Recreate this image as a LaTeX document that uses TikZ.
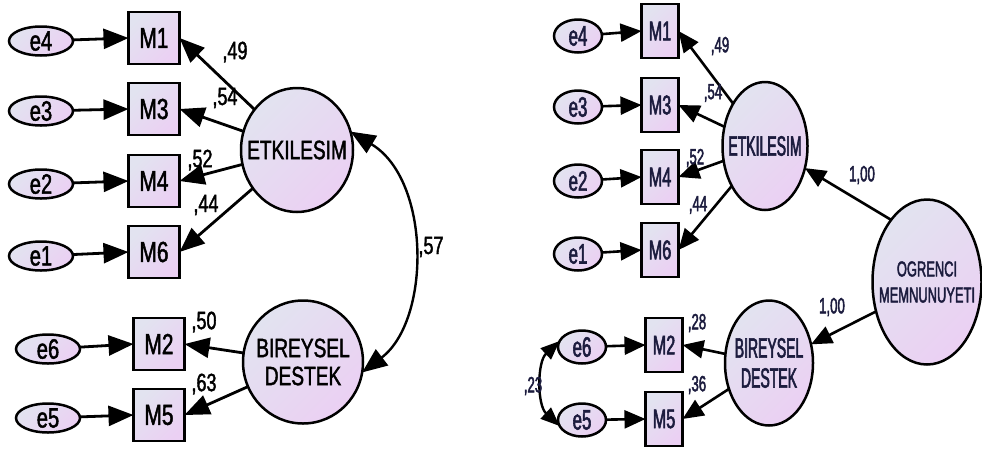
\documentclass[tikz,border=0pt]{standalone}
\usepackage{fontspec}
\setmainfont{Liberation Sans}
\newfontfamily\lfont[FakeStretch=0.72,FakeBold=1.6]{Liberation Sans}
\newfontfamily\rfont[FakeStretch=0.50,FakeBold=2]{Liberation Sans}
\newfontfamily\rfontb[FakeStretch=0.60,FakeBold=2]{Liberation Sans}
\usetikzlibrary{shapes.geometric,arrows.meta}
\definecolor{pA}{RGB}{226,227,240}
\definecolor{pB}{RGB}{235,208,243}
\definecolor{navy}{RGB}{28,28,62}
\begin{document}
\begin{tikzpicture}[x=1pt,y=-1pt,
  sh/.style={draw=black, line width=2.5pt, top color=pA, bottom color=pB, shading angle=45, inner sep=0pt, outer sep=0pt},
  lobstxt/.style={font=\lfont\fontsize{29}{30}\selectfont, inner sep=0pt},
  lerrtxt/.style={font=\lfont\fontsize{28}{30}\selectfont, inner sep=0pt},
  llattxt/.style={font=\lfont\fontsize{26.5}{28}\selectfont, inner sep=0pt},
  robstxt/.style={font=\rfontb\fontsize{27}{30}\selectfont, text=navy, inner sep=0pt},
  rerrtxt/.style={font=\rfontb\fontsize{28}{30}\selectfont, text=navy, inner sep=0pt},
  rlattxt/.style={font=\rfont\fontsize{28}{30}\selectfont, text=navy, inner sep=0pt},
  lobs/.style={sh, rectangle, minimum width=51pt, minimum height=52pt, lobstxt},
  robs/.style={sh, rectangle, minimum width=37pt, minimum height=54pt, robstxt},
  lerr/.style={sh, ellipse, minimum width=64pt, minimum height=29pt, label={[lerrtxt]center:#1}},
  rerr/.style={sh, ellipse, minimum width=48pt, minimum height=33pt, label={[rerrtxt]center:#1}},
  lat/.style={sh, ellipse},
  llab/.style={font=\lfont\fontsize{25}{26}\selectfont, inner sep=0pt},
  rlab/.style={font=\rfontb\fontsize{22}{24}\selectfont, text=navy, inner sep=0pt},
  larr/.style={-{Triangle[length=25pt,width=20pt]}, line width=2.8pt},
  rarr/.style={-{Triangle[length=21pt,width=18pt]}, line width=2.6pt},
  lcov/.style={{Triangle[length=25pt,width=20pt]}-{Triangle[length=25pt,width=20pt]}, line width=2.4pt},
  rcov/.style={{Triangle[length=19pt,width=15pt]}-{Triangle[length=19pt,width=15pt]}, line width=2.4pt}]
\useasboundingbox (0,0) rectangle (982,448);

% ---------------- left model ----------------
\node[lerr=e4] (le4) at (41,41) {};
\node[lerr=e3] (le3) at (41,111) {};
\node[lerr=e2] (le2) at (41,184) {};
\node[lerr=e1] (le1) at (41,256) {};
\node[lerr=e6] (le6) at (48,349) {};
\node[lerr=e5] (le5) at (48,418) {};
\node[lobs] (lm1) at (154,38) {M1};
\node[lobs] (lm3) at (154,109) {M3};
\node[lobs] (lm4) at (154,181) {M4};
\node[lobs] (lm6) at (154,252) {M6};
\node[lobs] (lm2) at (159,344) {M2};
\node[lobs] (lm5) at (159,415) {M5};
\node[lat, minimum width=112pt, minimum height=124pt,
      label={[llattxt]center:ETKILESIM}] (letk) at (297,150) {};
\node[lat, minimum width=120pt, minimum height=123pt,
      label={[llattxt, align=center]center:BIREYSEL\\DESTEK}] (lbir) at (303,362) {};

\foreach \e/\m in {le4/lm1, le3/lm3, le2/lm4, le1/lm6, le6/lm2, le5/lm5}
  \draw[larr] (\e) -- (\m.west);
\foreach \m in {lm1, lm3, lm4, lm6}
  \draw[larr] (letk) -- (\m.east);
\foreach \m in {lm2, lm5}
  \draw[larr] (lbir) -- (\m.east);
\draw[lcov] (letk.19) .. controls (431,180) and (431,320) .. (lbir.-10);

\node[llab] (l49) at (235,52) {,49};
\node[llab] (l54) at (225,98) {,54};
\node[llab] (l52) at (200,160) {,52};
\node[llab] (l44) at (206,205) {,44};
\node[llab] (l50) at (204,322) {,50};
\node[llab] (l63) at (204,384) {,63};
\node[llab] (l57) at (431,247) {,57};

% ---------------- right model ----------------
\node[rerr=e4] (re4) at (578,36) {};
\node[rerr=e3] (re3) at (578,107) {};
\node[rerr=e2] (re2) at (578,181) {};
\node[rerr=e1] (re1) at (578,254) {};
\node[rerr=e6] (re6) at (582,347) {};
\node[rerr=e5] (re5) at (582,420) {};
\node[robs] (rm1) at (660,31) {M1};
\node[robs] (rm3) at (660,105) {M3};
\node[robs] (rm4) at (660,177) {M4};
\node[robs] (rm6) at (660,250) {M6};
\node[robs] (rm2) at (664,345) {M2};
\node[robs] (rm5) at (664,419) {M5};
\node[lat, minimum width=85pt, minimum height=128pt,
      label={[rlattxt]center:ETKILESIM}] (retk) at (765,146) {};
\node[lat, minimum width=88pt, minimum height=125pt,
      label={[rlattxt, align=center]center:BIREYSEL\\DESTEK}] (rbir) at (769,363) {};
\node[lat, minimum width=109pt, minimum height=165pt,
      label={[font=\rfontb\fontsize{21.5}{26}\selectfont, text=navy, inner sep=0pt, align=center]center:OGRENCI\\MEMNUNUYETI}] (rogr) at (927,282) {};

\foreach \e/\m in {re4/rm1, re3/rm3, re2/rm4, re1/rm6, re6/rm2, re5/rm5}
  \draw[rarr] (\e) -- (\m.west);
\foreach \m in {rm1, rm3, rm4, rm6}
  \draw[rarr] (retk) -- (\m.east);
\foreach \m in {rm2, rm5}
  \draw[rarr] (rbir) -- (\m.east);
\draw[rarr] (rogr.120) -- (retk.-29);
\draw[rarr] (rogr.210) -- (rbir.24);
\draw[rcov] (re6.165) .. controls (537,362) and (537,405) .. (re5.195);

\node[rlab] (r49) at (720,46) {,49};
\node[rlab] (r54) at (713,93) {,54};
\node[rlab] (r52) at (695,158) {,52};
\node[rlab] (r44) at (698,205) {,44};
\node[rlab] (r28) at (697,323) {,28};
\node[rlab] (r36) at (697,385) {,36};
\node[rlab] (r23) at (533,386) {,23};
\node[rlab] (r100a) at (862,175) {1,00};
\node[rlab] (r100b) at (832,307) {1,00};
\end{tikzpicture}
\end{document}
